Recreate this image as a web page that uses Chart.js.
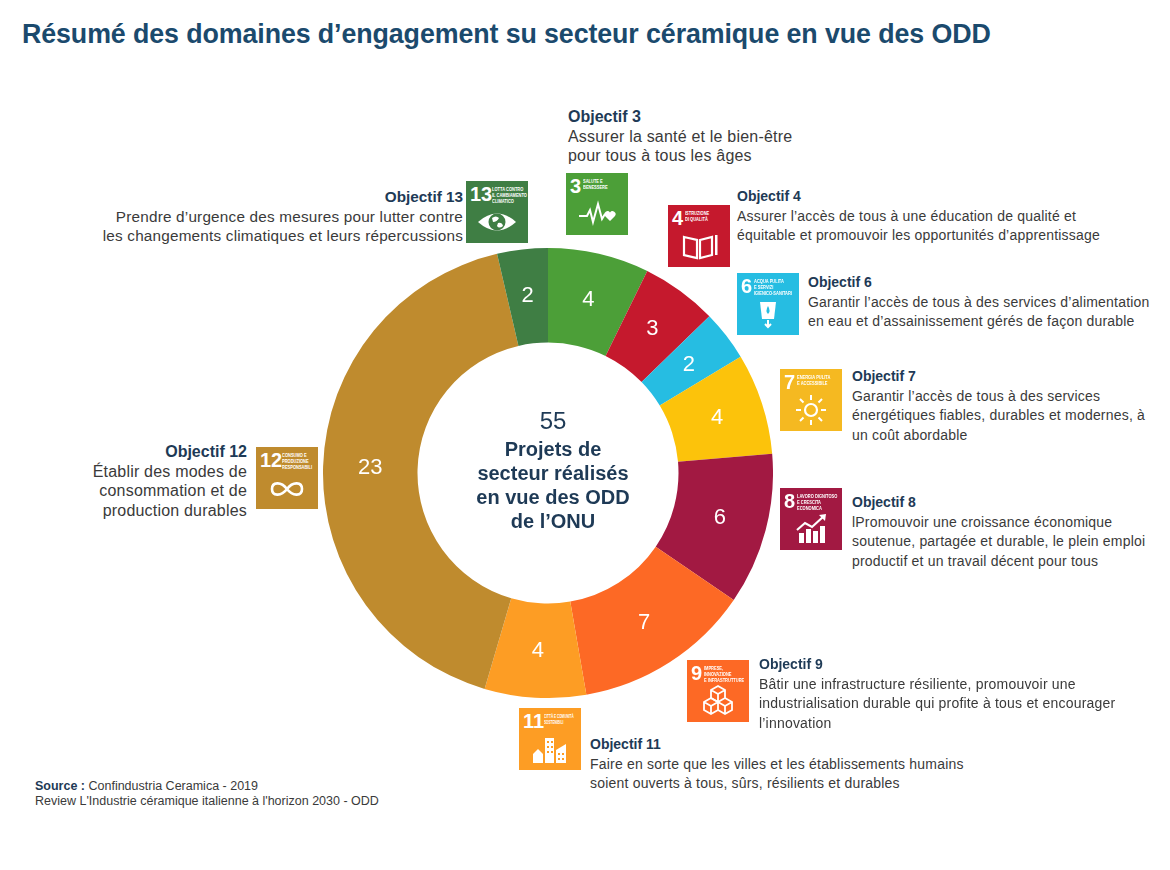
<!DOCTYPE html>
<html lang="fr">
<head>
<meta charset="utf-8">
<title>Résumé des domaines d'engagement</title>
<script src="https://cdn.jsdelivr.net/npm/chart.js@4.4.1/dist/chart.umd.min.js"></script>
<style>
  body { margin: 0; width: 1170px; height: 870px; background: #fff; position: relative; overflow: hidden;
         font-family: "Liberation Sans", Arial, sans-serif; }
  .title { position: absolute; left: 22px; top: 19px; font-size: 26.8px; font-weight: bold; color: #1b4a6d;
           white-space: nowrap; letter-spacing: -0.1px; }
  .obj { position: absolute; font-size: 14px; line-height: 19.5px; color: #3a3a3a; white-space: nowrap; letter-spacing: 0.2px; }
  .obj.lg { font-size: 16px; }
  .obj.md { font-size: 15.3px; }
  .obj b { color: #1e3a56; letter-spacing: 0; }
  .right { text-align: right; }
  .icon { position: absolute; width: 62px; height: 62px; color: #fff; overflow: hidden; }
  .icon .n { position: absolute; left: 4px; top: 2px; font: bold 20px "Liberation Sans Narrow", "Liberation Sans", sans-serif; }
  .icon .t { position: absolute; left: 17px; top: 5px; font: bold 5px "Liberation Sans Narrow", "Liberation Sans", sans-serif;
             line-height: 6px; text-transform: uppercase; transform: scaleX(0.8); transform-origin: left top; white-space: nowrap; }
  .icon svg { position: absolute; left: 11px; top: 24px; width: 40px; height: 32px; }
  #wrap { position: absolute; left: 323px; top: 248px; width: 450px; height: 450px; }
  .centre { position: absolute; left: 443px; top: 405px; width: 220px; text-align: center; color: #1e3a56; }
  .centre .big { font-size: 24px; line-height: 32px; }
  .centre .txt { font-size: 20px; font-weight: bold; line-height: 24px; }
  .source { position: absolute; left: 35px; top: 779px; font-size: 12.5px; line-height: 15px; color: #3a3a3a; }
  .source b { color: #1e3a56; }
</style>
</head>
<body>
<div class="title">Résumé des domaines d’engagement su secteur céramique en vue des ODD</div>

<div id="wrap"><canvas id="odd"></canvas></div>

<div class="centre"><div class="big" id="total"></div><div class="txt">Projets de<br>secteur réalisés<br>en vue des ODD<br>de l’ONU</div></div>

<!-- Objectif 3 -->
<div class="obj lg" style="left:568px;top:107px"><b>Objectif 3</b><br>Assurer la santé et le bien-être<br>pour tous à tous les âges</div>
<div class="icon" style="left:566px;top:173px;background:#4c9f38"><span class="n">3</span><span class="t">Salute e<br>benessere</span>
  <svg viewBox="0 0 40 32"><polyline points="2,19 10,19 13,13 16,25 21,7 25,22 28,17" fill="none" stroke="#fff" stroke-width="2"/><path d="M33 24 L28 19 A2.6 2.6 0 0 1 33 15.5 A2.6 2.6 0 0 1 38 19Z" fill="#fff"/></svg></div>

<!-- Objectif 13 -->
<div class="obj md right" style="right:707px;top:187px"><b>Objectif 13</b><br>Prendre d’urgence des mesures pour lutter contre<br>les changements climatiques et leurs répercussions</div>
<div class="icon" style="left:466px;top:181px;background:#3f7e44"><span class="n">13</span><span class="t" style="left:26px">Lotta contro<br>il cambiamento<br>climatico</span>
  <svg viewBox="0 0 40 32"><path d="M1 17 Q20 0 39 17 Q20 34 1 17Z" fill="#fff"/><circle cx="20" cy="17" r="8.5" fill="#3f7e44"/><path d="M15 13 Q19 10 22 13 Q20 17 16 17Z M21 18 Q25 17 26 21 Q22 24 20 21Z" fill="#fff"/></svg></div>

<!-- Objectif 4 -->
<div class="obj" style="left:737px;top:187px"><b>Objectif 4</b><br>Assurer l’accès de tous à une éducation de qualité et<br>équitable et promouvoir les opportunités d’apprentissage</div>
<div class="icon" style="left:668px;top:205px;background:#c5192d"><span class="n">4</span><span class="t">Istruzione<br>di qualità</span>
  <svg viewBox="0 0 40 32"><path d="M5 8 L18 11 L18 29 L5 26Z M21 11 L33 8 L33 26 L21 29Z" fill="none" stroke="#fff" stroke-width="2.2"/><rect x="36" y="6" width="2.5" height="20" fill="#fff"/></svg></div>

<!-- Objectif 6 -->
<div class="obj" style="left:808px;top:273px"><b>Objectif 6</b><br>Garantir l’accès de tous à des services d’alimentation<br>en eau et d’assainissement gérés de façon durable</div>
<div class="icon" style="left:737px;top:273px;background:#26bde2"><span class="n">6</span><span class="t">Acqua pulita<br>e servizi<br>igienico-sanitari</span>
  <svg viewBox="0 0 40 32"><path d="M12 5 L28 5 L26 22 L14 22Z" fill="#fff"/><path d="M20 9 Q23 14 20 17 Q17 14 20 9Z" fill="#26bde2"/><path d="M20 23 L20 30 M17 27 L20 30 L23 27" stroke="#fff" stroke-width="2" fill="none"/></svg></div>

<!-- Objectif 7 -->
<div class="obj" style="left:852px;top:367px"><b>Objectif 7</b><br>Garantir l’accès de tous à des services<br>énergétiques fiables, durables et modernes, à<br>un coût abordable</div>
<div class="icon" style="left:780px;top:369px;background:#f5b921"><span class="n">7</span><span class="t">Energia pulita<br>e accessibile</span>
  <svg viewBox="0 0 40 32"><circle cx="20" cy="17" r="6" fill="none" stroke="#fff" stroke-width="2.2"/><g stroke="#fff" stroke-width="2"><line x1="20" y1="2" x2="20" y2="7"/><line x1="20" y1="27" x2="20" y2="32"/><line x1="5" y1="17" x2="10" y2="17"/><line x1="30" y1="17" x2="35" y2="17"/><line x1="9" y1="6" x2="12.5" y2="9.5"/><line x1="31" y1="6" x2="27.5" y2="9.5"/><line x1="9" y1="28" x2="12.5" y2="24.5"/><line x1="31" y1="28" x2="27.5" y2="24.5"/></g></svg></div>

<!-- Objectif 8 -->
<div class="obj" style="left:852px;top:493px"><b>Objectif 8</b><br>lPromouvoir une croissance économique<br>soutenue, partagée et durable, le plein emploi<br>productif et un travail décent pour tous</div>
<div class="icon" style="left:780px;top:488px;background:#a21942"><span class="n">8</span><span class="t">Lavoro dignitoso<br>e crescita<br>economica</span>
  <svg viewBox="0 0 40 32"><g fill="#fff"><rect x="8" y="21" width="5" height="10"/><rect x="15" y="17" width="5" height="14"/><rect x="22" y="19" width="5" height="12"/><rect x="29" y="14" width="5" height="17"/></g><polyline points="6,18 14,11 21,15 33,4" fill="none" stroke="#fff" stroke-width="2.2"/><path d="M28 3 L35 2 L34 9Z" fill="#fff"/></svg></div>

<!-- Objectif 9 -->
<div class="obj" style="left:759px;top:655px"><b>Objectif 9</b><br>Bâtir une infrastructure résiliente, promouvoir une<br>industrialisation durable qui profite à tous et encourager<br>l’innovation</div>
<div class="icon" style="left:687px;top:660px;background:#fd6925"><span class="n">9</span><span class="t">Imprese,<br>innovazione<br>e infrastrutture</span>
  <svg viewBox="0 0 40 32"><g fill="none" stroke="#fff" stroke-width="1.8"><path d="M20 2 L27 6 L27 14 L20 18 L13 14 L13 6Z M13 6 L20 10 L27 6 M20 10 L20 18"/><path d="M13 14 L20 18 L20 26 L13 30 L6 26 L6 18Z M6 18 L13 22 L20 18 M13 22 L13 30"/><path d="M27 14 L34 18 L34 26 L27 30 L20 26 M20 18 L27 22 L34 18 M27 22 L27 30"/></g></svg></div>

<!-- Objectif 11 -->
<div class="obj" style="left:590px;top:735px"><b>Objectif 11</b><br>Faire en sorte que les villes et les établissements humains<br>soient ouverts à tous, sûrs, résilients et durables</div>
<div class="icon" style="left:519px;top:708px;background:#fd9d24"><span class="n">11</span><span class="t" style="left:25px;transform:scaleX(0.62)">Città e comunità<br>sostenibili</span>
  <svg viewBox="0 0 40 32"><g fill="#fff"><path d="M3 31 L3 22 L8 17 L13 22 L13 31Z"/><rect x="15" y="6" width="9" height="25"/><path d="M26 31 L26 18 L36 12 L36 31Z"/></g><g fill="#fd9d24"><rect x="17" y="9" width="2" height="2"/><rect x="21" y="9" width="2" height="2"/><rect x="17" y="14" width="2" height="2"/><rect x="21" y="14" width="2" height="2"/><rect x="17" y="19" width="2" height="2"/><rect x="21" y="19" width="2" height="2"/><rect x="28" y="21" width="2" height="2"/><rect x="32" y="21" width="2" height="2"/><rect x="28" y="26" width="2" height="2"/><rect x="32" y="26" width="2" height="2"/></g></svg></div>

<!-- Objectif 12 -->
<div class="obj lg right" style="right:923px;top:442px"><b>Objectif 12</b><br>Établir des modes de<br>consommation et de<br>production durables</div>
<div class="icon" style="left:256px;top:447px;background:#bf8b2e"><span class="n">12</span><span class="t" style="left:26px">Consumo e<br>produzione<br>responsabili</span>
  <svg viewBox="0 0 40 32"><path d="M20 18 C14 10 5 11 5 18 C5 25 14 26 20 18 C26 10 35 11 35 18 C35 25 26 26 20 18Z" fill="none" stroke="#fff" stroke-width="2.6"/></svg></div>

<div class="source"><b>Source :</b> Confindustria Ceramica - 2019<br>Review L'Industrie céramique italienne à l'horizon 2030 - ODD</div>

<script>
// Projets par objectif, en partant du haut, sens horaire
const objectifs = ['Objectif 3', 'Objectif 4', 'Objectif 6', 'Objectif 7', 'Objectif 8',
                   'Objectif 9', 'Objectif 11', 'Objectif 12', 'Objectif 13'];
const projets = [4, 3, 2, 4, 6, 7, 4, 23, 2];
const couleurs = ['#4c9f38', '#c5192d', '#26bde2', '#fcc30b', '#a21942',
                  '#fd6925', '#fd9d24', '#bf8b2e', '#3f7e44'];

document.getElementById('total').textContent = projets.reduce((a, b) => a + b, 0);

// white value in the middle of each ring segment
const valeurs = {
    id: 'valeurs',
    afterDatasetsDraw(chart) {
        const ctx = chart.ctx;
        const meta = chart.getDatasetMeta(0);
        ctx.save();
        ctx.fillStyle = '#fff';
        ctx.font = '22px "Liberation Sans", Arial, sans-serif';
        ctx.textAlign = 'center';
        ctx.textBaseline = 'middle';
        meta.data.forEach((arc, i) => {
            const p = arc.getCenterPoint();
            ctx.fillText(String(chart.data.datasets[0].data[i]), p.x, p.y);
        });
        ctx.restore();
    }
};

new Chart(document.getElementById('odd'), {
    type: 'doughnut',
    data: {
        labels: objectifs,
        datasets: [{
            data: projets,
            backgroundColor: couleurs,
            borderWidth: 0
        }]
    },
    options: {
        responsive: true,
        maintainAspectRatio: false,
        animation: false,
        cutout: '58%',
        rotation: 0,
        layout: { padding: 0 },
        plugins: {
            legend: { display: false },
            tooltip: { enabled: false }
        }
    },
    plugins: [valeurs]
});
</script>
</body>
</html>
